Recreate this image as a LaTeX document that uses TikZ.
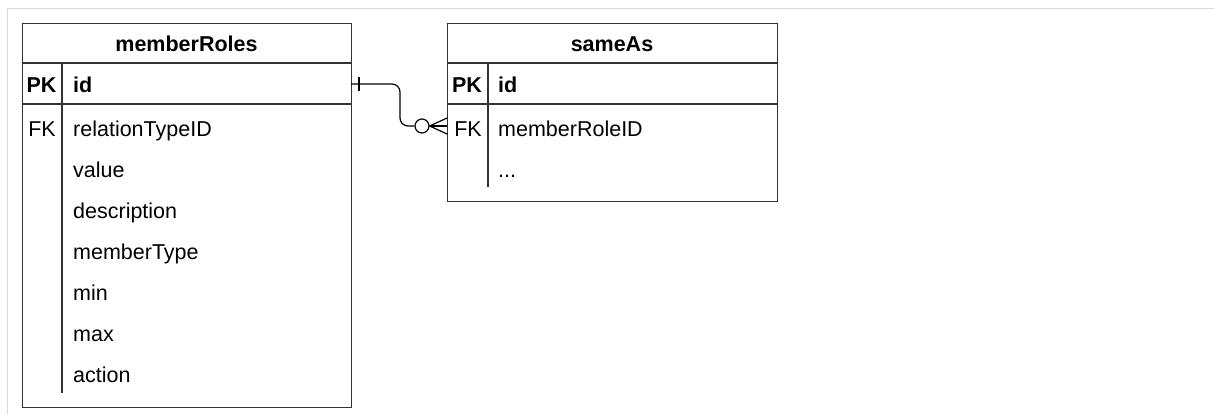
\documentclass[tikz,border=0pt]{standalone}
\usepackage{fontspec}
\setmainfont{Liberation Sans}
\begin{document}
\begin{tikzpicture}[x=1pt,y=-1pt,
  tbl/.style={draw=black!80, line width=1.3pt, fill=white, anchor=north west, inner sep=0pt},
  sep/.style={draw=black!80, line width=1.3pt},
  txt/.style={inner sep=0pt, text height=15.4pt, text depth=0pt, font=\fontsize{21.5}{26}\selectfont},
  fld/.style={txt, anchor=west},
  key/.style={txt, anchor=center},
  hdr/.style={txt, anchor=center, font=\fontsize{21.5}{26}\selectfont\bfseries},
  conn/.style={draw=black, line width=1.2pt},
]
\useasboundingbox (0,0) rectangle (1214,414);
\draw[black!15, line width=1.5pt] (7.5,414) -- (7.5,8.5) -- (1214,8.5);

% memberRoles table
\node[tbl, minimum width=329pt, minimum height=384pt] (mr) at (22,23) {};
\draw[sep] (22,63) -- (351,63);
\draw[sep] (22,104) -- (351,104);
\draw[sep] (62,63) -- (62,393);
\node[hdr] (mrh) at (186.5,44) {memberRoles};
\node[key, font=\fontsize{21.5}{26}\selectfont\bfseries] (mrpkk) at (41.5,85) {PK};
\node[fld, font=\fontsize{21.5}{26}\selectfont\bfseries] (mrpk) at (73,85) {id};
\node[key] (mrfkk) at (42,129) {FK};
\node[fld] (mrf1) at (73,129) {relationTypeID};
\node[fld] (mrf2) at (73,170) {value};
\node[fld] (mrf3) at (73,211) {description};
\node[fld] (mrf4) at (73,252) {memberType};
\node[fld] (mrf5) at (73,293) {min};
\node[fld] (mrf6) at (73,334) {max};
\node[fld] (mrf7) at (73,375) {action};

% sameAs table
\node[tbl, minimum width=330pt, minimum height=178pt] (sa) at (447,23) {};
\draw[sep] (447,63) -- (777,63);
\draw[sep] (447,104) -- (777,104);
\draw[sep] (488,63) -- (488,187);
\node[hdr] (sah) at (612,44) {sameAs};
\node[key, font=\fontsize{21.5}{26}\selectfont\bfseries] (sapkk) at (467,85) {PK};
\node[fld, font=\fontsize{21.5}{26}\selectfont\bfseries] (sapk) at (498,85) {id};
\node[key] (safkk) at (468,129) {FK};
\node[fld] (saf1) at (498,129) {memberRoleID};
\node[fld] (saf2) at (498,170) {...};

% connector
\coordinate (src) at (351,84);
\coordinate (dst) at (447,126);
\node[circle, draw=black, line width=1.2pt, fill=white, minimum size=14pt, inner sep=0pt] (circ) at (422,126) {};
\draw[conn, rounded corners=8pt] (src) -- (400,84) -- (400,126) -- (circ.west);
\draw[conn] (359,77) -- (359,91);
\draw[conn] (447,118) -- (circ.east) -- (447,134);
\draw[conn] (circ.east) -- (dst);
\end{tikzpicture}
\end{document}
